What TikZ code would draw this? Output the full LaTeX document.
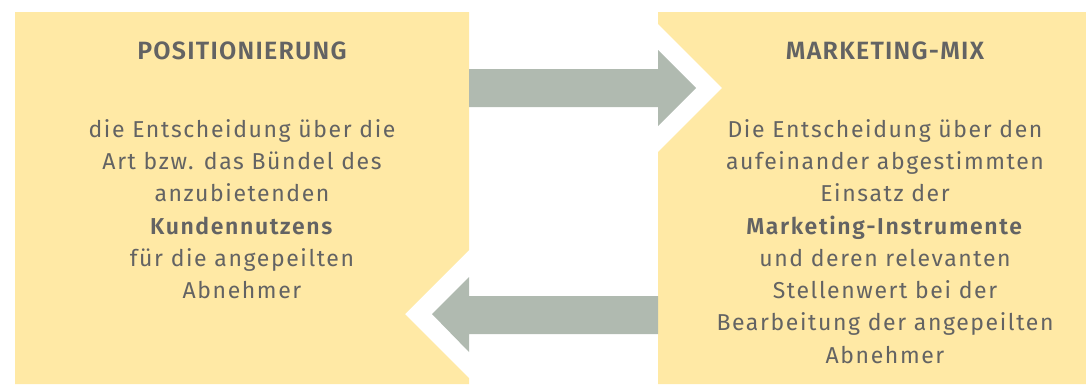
\documentclass[tikz,border=0pt]{standalone}
\usepackage{fontspec}
\setmainfont{Fira Sans}
\newfontfamily\bodyfont{Fira Sans}[LetterSpace=7,BoldFont={Fira Sans SemiBold}]
\newfontfamily\headfont{Fira Sans SemiBold}[LetterSpace=5]
\usetikzlibrary{positioning}
\definecolor{boxyellow}{HTML}{FFE9A5}
\definecolor{arrowgray}{HTML}{B0BAB0}
\definecolor{textgray}{HTML}{636363}
\begin{document}
\begin{tikzpicture}
[x=1pt,y=-1pt]
\tikzstyle{box}=[fill=boxyellow]
\tikzstyle{blockarrow}=[fill=arrowgray]
\tikzstyle{title}=[text=textgray,inner sep=0pt,anchor=base,font=\headfont\fontsize{25}{30}\selectfont]
\tikzstyle{body}=[text=textgray,inner sep=0pt,anchor=north,align=center,font=\bodyfont\fontsize{23}{32.3}\selectfont]
\useasboundingbox (0,0) rectangle (1086,384);
% boxes with notches
\fill[box] (15,12) -- (469,12) -- (469,250) -- (405,314) -- (469,378)
    -- (469,384) -- (15,384) -- cycle;
\fill[box] (658,12) -- (1086,12) -- (1086,384) -- (658,384) -- (658,152)
    -- (722,88) -- (658,24) -- cycle;
% arrows
\fill[blockarrow] (469,69) -- (658,69) -- (658,50) -- (696,88) -- (658,126)
    -- (658,107) -- (469,107) -- cycle;
\fill[blockarrow] (658,296) -- (469,296) -- (469,277) -- (432,314) -- (469,352)
    -- (469,334) -- (658,334) -- cycle;
% texts
\node[title] (pos) at (242,59) {POSITIONIERUNG};
\node[title] (mix) at (885,59) {MARKETING-MIX};
\node[body] (posText) at (242,119) {die Entscheidung über die\\
    Art bzw. das Bündel des\\
    anzubietenden\\
    \textbf{Kundennutzens}\\
    für die angepeilten\\
    Abnehmer};
\node[body] (mixText) at (885,119) {Die Entscheidung über den\\
    aufeinander abgestimmten\\
    Einsatz der\\
    \textbf{Marketing-Instrumente}\\
    und deren relevanten\\
    Stellenwert bei der\\
    Bearbeitung der angepeilten\\
    Abnehmer};
\end{tikzpicture}
\end{document}
